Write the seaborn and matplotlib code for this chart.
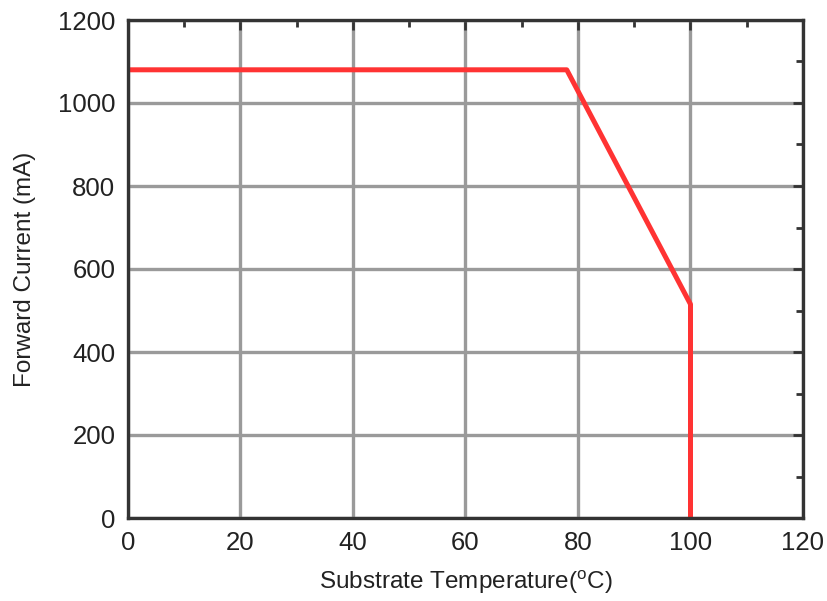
import matplotlib
matplotlib.use("Agg")
import matplotlib.pyplot as plt
import seaborn as sns
import pandas as pd
from matplotlib.ticker import MultipleLocator

temperature = [0, 78, 100, 100]
current = [1080, 1080, 515, 0]
x_ticks = [0, 20, 40, 60, 80, 100, 120]
y_ticks = [0, 200, 400, 600, 800, 1000, 1200]

sns.set_theme(style="white")
plt.rcParams['font.family'] = ['Liberation Sans', 'DejaVu Sans']
plt.rcParams['mathtext.fontset'] = 'custom'
plt.rcParams['mathtext.rm'] = 'Liberation Sans'
plt.rcParams['mathtext.it'] = 'Liberation Sans'

df = pd.DataFrame({"T": temperature, "I": current})

fig = plt.figure(figsize=(8.28, 6.01), dpi=100)
ax = fig.add_axes([128/828, 1 - 518/601, (803-128)/828, (518-20)/601])

ax.grid(True, color="#9a9a9a", linewidth=2.4, zorder=0)
sns.lineplot(data=df, x="T", y="I", sort=False, estimator=None, errorbar=None,
             color="#ff3333", linewidth=3.6, ax=ax, zorder=3)

ax.set_xlim(0, 120)
ax.set_ylim(0, 1200)
ax.set_xticks(x_ticks)
ax.set_yticks(y_ticks)
ax.xaxis.set_minor_locator(MultipleLocator(10))
ax.yaxis.set_minor_locator(MultipleLocator(100))
ax.tick_params(which="both", direction="in", top=True, right=True, color="#333333", width=2)
ax.tick_params(which="major", length=7, labelsize=18.5, labelcolor="#222222")
ax.tick_params(axis="x", which="major", pad=9)
ax.tick_params(axis="y", which="major", pad=9)
ax.tick_params(which="minor", length=5)
for s in ax.spines.values():
    s.set_color("#333333")
    s.set_linewidth(2.4)
    s.set_zorder(5)

ax.set_xlabel(r"Substrate Temperature($^{\rm o}$C)", fontsize=17.5, color="#222222", labelpad=10)
ax.set_ylabel("Forward Current (mA)", fontsize=17.5, color="#222222", labelpad=16)

fig.savefig("out.png", dpi=100)
